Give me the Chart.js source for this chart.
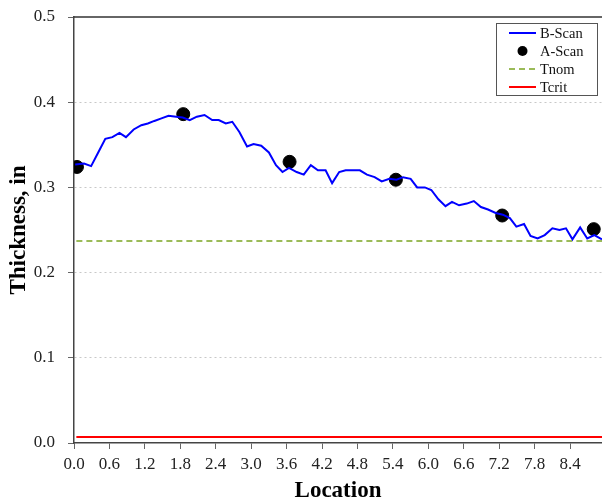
<!DOCTYPE html>
<html>
<head>
    <title>Thickness vs Location</title>
    <script src="https://cdn.jsdelivr.net/npm/chart.js"></script>
    <style>
        html, body { margin: 0; padding: 0; background: #fff; overflow: hidden; }
        #wrap { width: 602px; height: 504px; }
    </style>
</head>
<body>
    <div id="wrap"><canvas id="thicknessChart"></canvas></div>

    <script>
    // B-Scan profile (location, thickness in)
    const bScanLoc = [0.02, 0.17, 0.29, 0.41, 0.53, 0.65, 0.77, 0.88, 1.01, 1.14, 1.25, 1.36, 1.48, 1.60, 1.73, 1.84,
        1.96, 2.08, 2.21, 2.34, 2.45, 2.57, 2.68, 2.80, 2.93, 3.04, 3.17, 3.30, 3.42, 3.53, 3.64, 3.77, 3.89, 4.01,
        4.13, 4.26, 4.37, 4.49, 4.60, 4.73, 4.84, 4.96, 5.09, 5.21, 5.34, 5.46, 5.57, 5.70, 5.81, 5.94, 6.05, 6.17,
        6.29, 6.40, 6.52, 6.65, 6.77, 6.89, 7.01, 7.14, 7.26, 7.38, 7.49, 7.62, 7.73, 7.85, 7.97, 8.10, 8.22, 8.33,
        8.44, 8.57, 8.69, 8.81, 8.94];
    const bScanThk = [0.327, 0.328, 0.325, 0.341, 0.357, 0.359, 0.364, 0.359, 0.368, 0.373, 0.375, 0.378, 0.381, 0.384, 0.383, 0.382,
        0.379, 0.383, 0.385, 0.379, 0.379, 0.375, 0.377, 0.365, 0.348, 0.351, 0.349, 0.341, 0.326, 0.318, 0.323, 0.318, 0.315, 0.326,
        0.320, 0.320, 0.305, 0.318, 0.320, 0.320, 0.320, 0.315, 0.312, 0.307, 0.310, 0.309, 0.312, 0.310, 0.300, 0.300, 0.297, 0.286,
        0.278, 0.283, 0.279, 0.281, 0.284, 0.277, 0.274, 0.270, 0.268, 0.264, 0.254, 0.257, 0.243, 0.240, 0.244, 0.252, 0.250, 0.252,
        0.239, 0.253, 0.240, 0.244, 0.239];

    // A-Scan spot readings
    const aScanLoc = [0.05, 1.85, 3.65, 5.45, 7.25, 8.80];
    const aScanThk = [0.324, 0.386, 0.330, 0.309, 0.267, 0.251];

    // limits
    const limitLoc = [0.04, 9.0];
    const tNom = 0.237;
    const tCrit = 0.007;

    // axes
    const xTicks = [0.0, 0.6, 1.2, 1.8, 2.4, 3.0, 3.6, 4.2, 4.8, 5.4, 6.0, 6.6, 7.2, 7.8, 8.4];
    const yTicks = [0.0, 0.1, 0.2, 0.3, 0.4, 0.5];
    const xMax = 8.94;

    const serif = '"Liberation Serif", "Times New Roman", serif';

    const toPoints = (xs, ys) => xs.map((x, i) => ({ x: x, y: ys[i] }));

    // рамка сверху и легенда в рамке
    const framePlugin = {
        id: 'frameAndLegend',
        afterDraw(chart) {
            const ctx = chart.ctx;
            const a = chart.chartArea;
            ctx.save();
            ctx.strokeStyle = '#333';
            ctx.lineWidth = 1.5;
            ctx.beginPath();
            ctx.moveTo(a.left, a.top);
            ctx.lineTo(a.right, a.top);
            ctx.stroke();

            const bx = a.right - 106, by = a.top + 6, bw = 101, bh = 72;
            ctx.fillStyle = '#fff';
            ctx.fillRect(bx, by, bw, bh);
            ctx.strokeStyle = '#555';
            ctx.lineWidth = 1;
            ctx.strokeRect(bx + 0.5, by + 0.5, bw, bh);

            ctx.font = '14.5px ' + serif;
            ctx.textBaseline = 'middle';
            chart.data.datasets.forEach((ds, i) => {
                const y = by + 10 + i * 18;
                const x0 = bx + 13, x1 = bx + 40;
                if (ds.showLine === false) {
                    ctx.fillStyle = ds.pointBackgroundColor;
                    ctx.beginPath();
                    ctx.arc((x0 + x1) / 2, y, 5, 0, Math.PI * 2);
                    ctx.fill();
                } else {
                    ctx.strokeStyle = ds.borderColor;
                    ctx.lineWidth = ds.borderWidth;
                    ctx.setLineDash(ds.borderDash || []);
                    ctx.beginPath();
                    ctx.moveTo(x0, y);
                    ctx.lineTo(x1, y);
                    ctx.stroke();
                    ctx.setLineDash([]);
                }
                ctx.fillStyle = '#111';
                ctx.fillText(ds.label, bx + 44, y + 1);
            });
            ctx.restore();
        }
    };

    new Chart(document.getElementById('thicknessChart'), {
        type: 'line',
        data: {
            datasets: [{
                label: 'B-Scan',
                data: toPoints(bScanLoc, bScanThk),
                borderColor: '#0000ff',
                borderWidth: 2,
                pointRadius: 0,
                tension: 0
            }, {
                label: 'A-Scan',
                data: toPoints(aScanLoc, aScanThk),
                showLine: false,
                pointRadius: 6.5,
                pointBackgroundColor: '#000',
                pointBorderColor: '#000',
                borderColor: '#000'
            }, {
                label: 'Tnom',
                data: toPoints(limitLoc, [tNom, tNom]),
                borderColor: '#9bbb59',
                borderWidth: 2,
                borderDash: [6, 4],
                pointRadius: 0
            }, {
                label: 'Tcrit',
                data: toPoints(limitLoc, [tCrit, tCrit]),
                borderColor: '#ff0000',
                borderWidth: 2,
                pointRadius: 0
            }]
        },
        options: {
            responsive: true,
            maintainAspectRatio: false,
            animation: false,
            layout: { autoPadding: false, padding: { top: 17, right: 0, bottom: 0, left: 0 } },
            plugins: {
                legend: { display: false },
                tooltip: { enabled: false }
            },
            scales: {
                x: {
                    type: 'linear',
                    min: 0,
                    max: xMax,
                    afterBuildTicks: s => { s.ticks = xTicks.map(v => ({ value: v })); },
                    afterFit: s => { s.height = 61; s.paddingLeft = 0; s.paddingRight = 0; },
                    grid: { drawOnChartArea: false, drawTicks: true, tickLength: 6, tickColor: '#666' },
                    border: { color: '#444', width: 1.5 },
                    ticks: {
                        padding: 5,
                        color: '#222',
                        font: { family: serif, size: 17 },
                        maxRotation: 0,
                        callback: v => v.toFixed(1)
                    },
                    title: {
                        display: true,
                        text: 'Location',
                        color: '#000',
                        font: { family: serif, size: 23, weight: 'bold', lineHeight: 1.1 },
                        padding: { top: 0, bottom: 0 }
                    }
                },
                y: {
                    min: 0,
                    max: 0.5,
                    afterBuildTicks: s => { s.ticks = yTicks.map(v => ({ value: v })); },
                    afterFit: s => { s.width = 74; s.paddingTop = 0; s.paddingBottom = 0; },
                    grid: {
                        color: c => (c.tick && (c.tick.value === 0 || c.tick.value === 0.5)) ? 'rgba(0,0,0,0)' : '#c8c8c8',
                        lineWidth: 1,
                        tickLength: 6,
                        tickColor: '#666',
                        tickBorderDash: []
                    },
                    border: { color: '#444', width: 1.5, dash: [2, 3] },
                    ticks: {
                        padding: 13,
                        color: '#222',
                        font: { family: serif, size: 17 },
                        callback: v => v.toFixed(1)
                    },
                    title: {
                        display: true,
                        text: 'Thickness, in',
                        color: '#000',
                        font: { family: serif, size: 23, weight: 'bold' },
                        padding: { top: 5, bottom: 0 }
                    }
                }
            }
        },
        plugins: [framePlugin]
    });
    </script>
</body>
</html>
